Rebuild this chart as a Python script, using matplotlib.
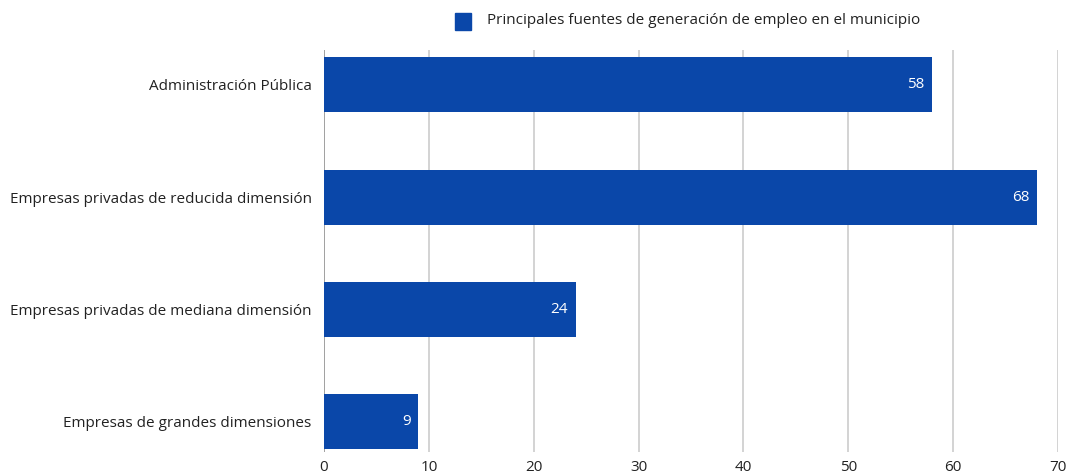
import matplotlib
matplotlib.use("Agg")
import matplotlib.pyplot as plt

categories = ["Administración Pública",
              "Empresas privadas de reducida dimensión",
              "Empresas privadas de mediana dimensión",
              "Empresas de grandes dimensiones"]
values = [58, 68, 24, 9]
xticks = [0, 10, 20, 30, 40, 50, 60, 70]
series_name = "Principales fuentes de generación de empleo en el municipio"

BLUE = "#0a47a9"
plt.rcParams['font.family'] = ['Open Sans', 'DejaVu Sans']

fig = plt.figure(figsize=(10.71, 4.76), dpi=100)
ax = fig.add_axes([324/1071, 1-452/476, (1058-324)/1071, (452-50)/476])

ypos = list(range(len(categories)))
ax.barh(ypos, values, height=0.49, color=BLUE, zorder=3)
for y, v in zip(ypos, values):
    ax.text(v - 0.75, y, str(v), color="white", ha="right", va="center",
            fontsize=11, zorder=4)

ax.set_xlim(0, 70)
ax.set_ylim(3.27, -0.31)
ax.set_xticks(xticks)
ax.set_xticklabels([str(t) for t in xticks])
ax.set_yticks(ypos)
ax.set_yticklabels(categories)
ax.tick_params(axis='both', length=0, labelsize=11, colors="#222222")
ax.tick_params(axis='y', pad=9)
ax.tick_params(axis='x', pad=6)
ax.grid(axis='x', color="#cccccc", linewidth=1.2, zorder=0)
ax.axvline(0, color="#999999", linewidth=1.2, zorder=2)
for s in ax.spines.values():
    s.set_visible(False)

# legend
fig.patches.append(plt.Rectangle((455/1071, 1-30/476), 16/1071, 17/476,
                                 transform=fig.transFigure, color=BLUE))
fig.text(487/1071, 1-21/476, series_name, ha="left", va="center",
         fontsize=11, color="#222222")

fig.savefig("out.png", dpi=100)
